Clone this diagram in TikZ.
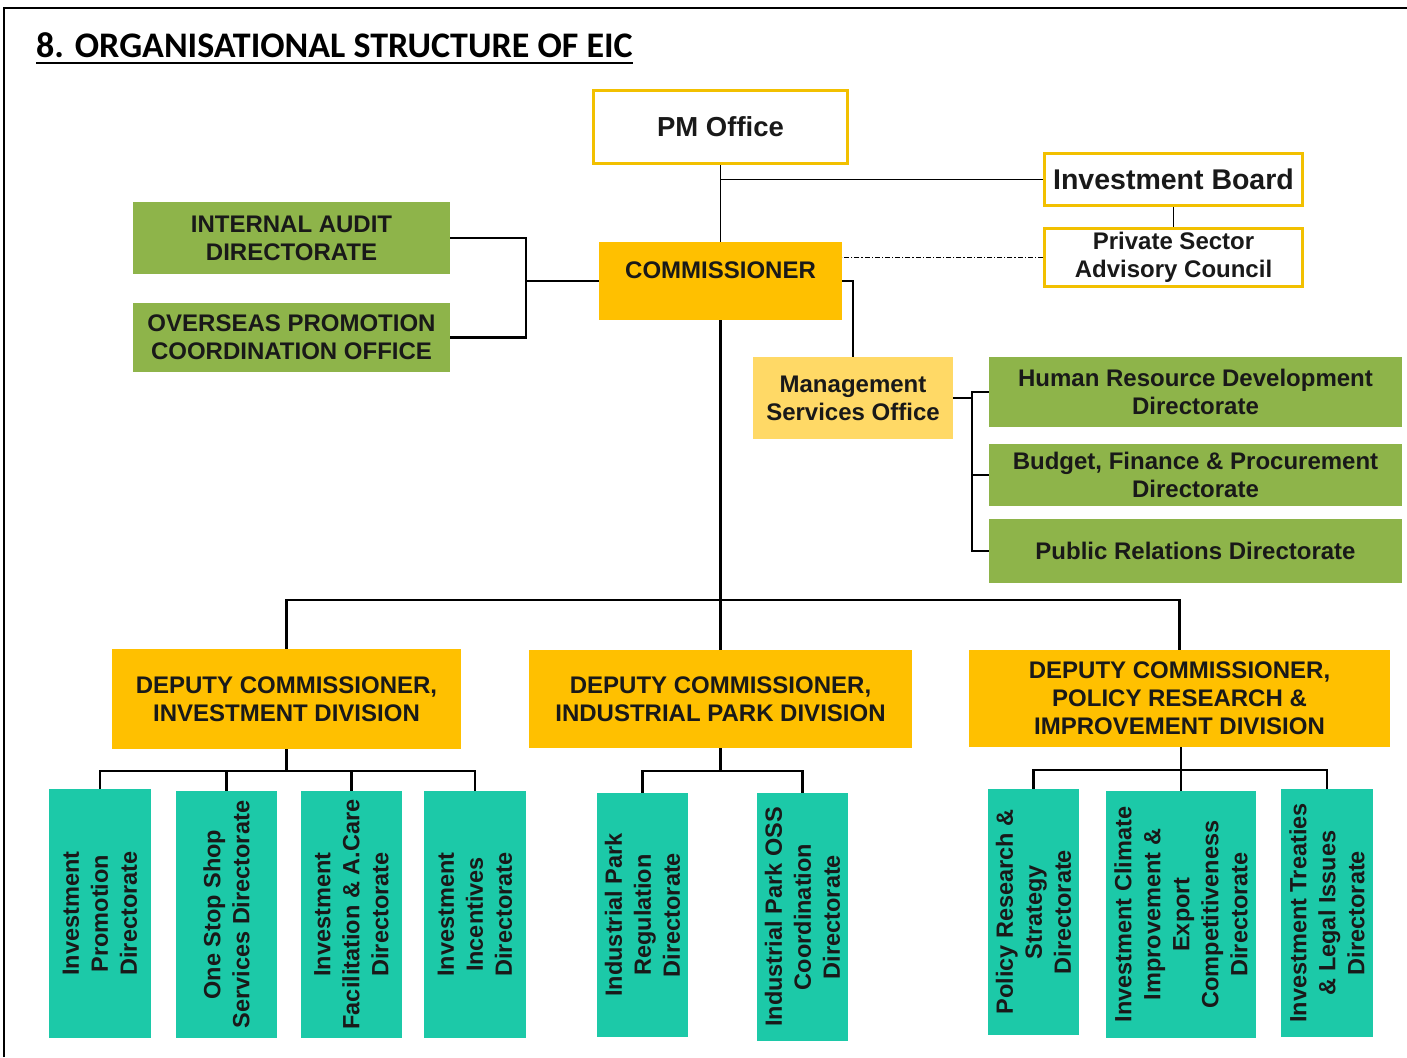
\documentclass[tikz,border=0pt]{standalone}
\usepackage{fontspec}
\setmainfont{Liberation Sans}
\newfontfamily\titlefont{Carlito}
\definecolor{ylw}{RGB}{242,192,0}
\definecolor{org}{RGB}{255,192,0}
\definecolor{lty}{RGB}{255,217,102}
\definecolor{grn}{RGB}{142,180,74}
\definecolor{tealc}{RGB}{28,201,168}
\tikzset{
  base/.style={inner sep=0pt, align=center, text=black!90, font=\fontsize{24}{28}\selectfont\bfseries},
  ylwbox/.style={base, draw=ylw, line width=3pt, fill=white},
  orgbox/.style={base, fill=org},
  grnbox/.style={base, fill=grn},
  ltybox/.style={base, fill=lty},
  tealbox/.style={base, fill=tealc, rotate=90, font=\fontsize{23.5}{29}\selectfont\bfseries},
  conn/.style={line width=2.5pt, line join=miter},
  thinline/.style={line width=1.3pt},
  dashdotline/.style={line width=1pt, dash pattern=on 5pt off 2pt on 1.2pt off 2pt}
}
\begin{document}
\begin{tikzpicture}[x=1pt,y=-1pt]
\useasboundingbox (0,0) rectangle (1407,1057);
\fill[white] (0,0) rectangle (1407,1057);
% frame
\draw[line width=2.5pt] (4,1057) -- (4,8) -- (1407,8);
% title
\node[anchor=base west, inner sep=0pt, font=\titlefont\fontsize{36}{40}\selectfont\bfseries] (title) at (36,57) {8. ORGANISATIONAL STRUCTURE OF EIC};
\draw[line width=2pt] ([yshift=-6pt]title.base west) -- ([yshift=-6pt]title.base east);

% top level
\node[ylwbox, minimum width=254pt, minimum height=73pt, font=\fontsize{27.5}{32}\selectfont\bfseries] (pm) at (720.5,127) {PM Office};
\node[ylwbox, minimum width=258pt, minimum height=52pt, font=\fontsize{28.5}{32}\selectfont\bfseries] (ib) at (1173.5,179.5) {Investment Board};
\node[ylwbox, minimum width=258pt, minimum height=58pt, font=\fontsize{24}{28}\selectfont\bfseries] (psac) at (1173.5,257.5) {Private Sector\\Advisory Council};
\node[orgbox, minimum width=243pt, minimum height=78pt, text height=17pt, text depth=22pt] (comm) at (720.5,281) {COMMISSIONER};

\node[grnbox, minimum width=317pt, minimum height=72pt] (ia) at (291.5,238) {INTERNAL AUDIT\\DIRECTORATE};
\node[grnbox, minimum width=317pt, minimum height=69pt] (ov) at (291.5,337.5) {OVERSEAS PROMOTION\\COORDINATION OFFICE};

\node[ltybox, minimum width=200pt, minimum height=82pt] (mso) at (853,398) {Management\\Services Office};
\node[grnbox, minimum width=413pt, minimum height=70pt] (hrd) at (1195.5,392) {Human Resource Development\\Directorate};
\node[grnbox, minimum width=413pt, minimum height=62pt] (bfp) at (1195.5,475) {Budget, Finance \& Procurement\\Directorate};
\node[grnbox, minimum width=413pt, minimum height=64pt] (pr) at (1195.5,551) {Public Relations Directorate};

% deputy commissioners
\node[orgbox, minimum width=349pt, minimum height=100pt] (dci) at (286.5,699) {DEPUTY COMMISSIONER,\\INVESTMENT DIVISION};
\node[orgbox, minimum width=383pt, minimum height=98pt] (dcd) at (720.5,699) {DEPUTY COMMISSIONER,\\INDUSTRIAL PARK DIVISION};
\node[orgbox, minimum width=421pt, minimum height=97pt] (dcp) at (1179.5,698.5) {DEPUTY COMMISSIONER,\\POLICY RESEARCH \&\\IMPROVEMENT DIVISION};

% directorates (rotated; node's east anchor is the top edge)
\node[tealbox, minimum width=249pt, minimum height=102pt] (c1) at (100,913.5) {Investment\\Promotion\\Directorate};
\node[tealbox, minimum width=247pt, minimum height=101pt] (c2) at (226.5,914.5) {One Stop Shop\\Services Directorate};
\node[tealbox, minimum width=247pt, minimum height=101pt] (c3) at (351.5,914.5) {Investment\\Facilitation \& A.Care\\Directorate};
\node[tealbox, minimum width=247pt, minimum height=102pt] (c4) at (475,914.5) {Investment\\Incentives\\Directorate};

\node[tealbox, minimum width=244pt, minimum height=91pt] (k1) at (642.5,915) {Industrial Park\\Regulation\\Directorate};
\node[tealbox, minimum width=248pt, minimum height=91pt] (k2) at (802.5,917) {Industrial Park OSS\\Coordination\\Directorate};

\node[tealbox, minimum width=246pt, minimum height=91pt] (p1) at (1033.5,912) {Policy Research \&\\Strategy\\Directorate};
\node[tealbox, minimum width=247pt, minimum height=150pt] (p2) at (1181,914.5) {Investment Climate\\Improvement \&\\Export\\Competitiveness\\Directorate};
\node[tealbox, minimum width=248pt, minimum height=92pt] (p3) at (1327,913) {Investment Treaties\\\& Legal Issues\\Directorate};

% connectors top
\draw[thinline] (pm.south) -- (comm.north);
\draw[thinline] (ib.west) -- (ib.west -| pm.south);
\draw[thinline] (ib.south) -- (psac.north);
\draw[dashdotline] (psac.west) -- (psac.west -| comm.east);

\coordinate (lj) at (526,281);
\draw[conn] (ia.east) -| (lj) |- (ov.east);
\draw[conn] (lj) -- (comm.west);

\draw[conn] (comm.east) -| (mso.north);
\coordinate (mj) at (972,398);
\draw[conn] (mso.east) -- (mj);
\draw[conn] (hrd.west) -- (hrd.west -| mj) -- (pr.west -| mj) -- (pr.west);
\draw[conn] (bfp.west) -- (bfp.west -| mj);

% main bus
\coordinate (bus) at (720.5,600);
\draw[conn] (comm.south) -- (dcd.north);
\draw[conn] (dci.north) -- (dci.north |- bus) -- (dcp.north |- bus) -- (dcp.north);

% investment division
\coordinate (busi) at (286.5,771);
\draw[conn] (dci.south) -- (busi);
\draw[conn] (c1.east) -- (c1.east |- busi) -- (c4.east |- busi) -- (c4.east);
\draw[conn] (c2.east) -- (c2.east |- busi);
\draw[conn] (c3.east) -- (c3.east |- busi);

% industrial park division
\coordinate (busk) at (720.5,771);
\draw[conn] (dcd.south) -- (busk);
\draw[conn] (k1.east) -- (k1.east |- busk) -- (k2.east |- busk) -- (k2.east);

% policy division
\coordinate (busp) at (1181,770);
\draw[conn] (dcp.south -| busp) -- (busp);
\draw[conn] (p1.east) -- (p1.east |- busp) -- (p3.east |- busp) -- (p3.east);
\draw[conn] (p2.east) -- (p2.east |- busp);
\end{tikzpicture}
\end{document}
